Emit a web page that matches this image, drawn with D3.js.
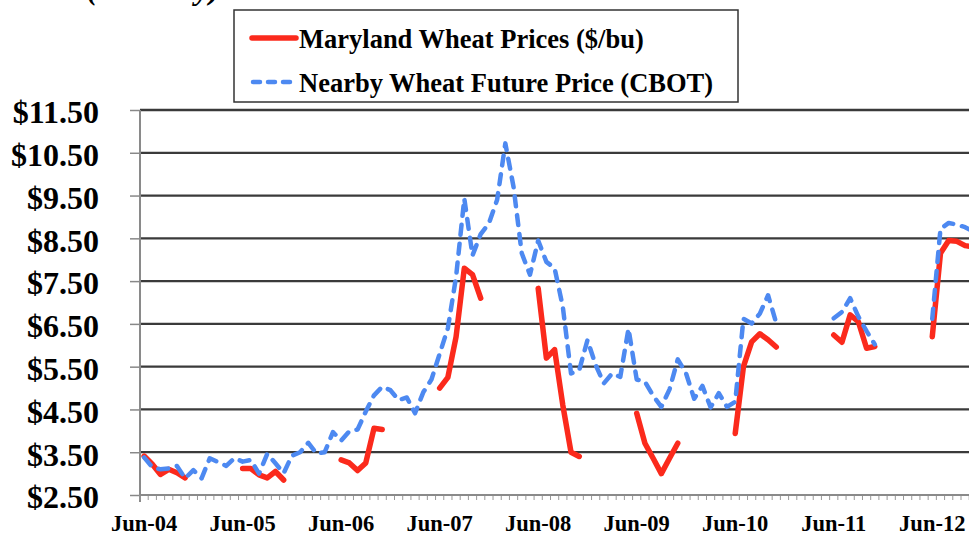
<!DOCTYPE html>
<html>
<head>
<meta charset="utf-8">
<script src="https://cdn.jsdelivr.net/npm/d3@7"></script>
<style>
  body { margin: 0; background: #fff; }
  svg text { font-family: "Liberation Serif", "Times New Roman", serif; font-weight: bold; fill: #000; }
</style>
</head>
<body>
<script>
var width = 969, height = 536;

// y tick values ($/bu) and x labels (one every 12 months, starting Jun-04)
var yTicks = [2.5, 3.5, 4.5, 5.5, 6.5, 7.5, 8.5, 9.5, 10.5, 11.5];
var xTickLabels = ["Jun-04", "Jun-05", "Jun-06", "Jun-07", "Jun-08", "Jun-09", "Jun-10", "Jun-11", "Jun-12"];
var nMonths = 104; // Jun-04 .. Jan-13, the picture is cut at the right edge

// Maryland cash price, monthly from Jun-04 (only Jun-Nov reported)
var marylandPrices = [
  3.41, 3.22, 2.98, 3.10, 3.02, 2.90, null, null, null, null, null, null,
  3.12, 3.12, 2.97, 2.90, 3.05, 2.85, null, null, null, null, null, null,
  3.32, 3.25, 3.07, 3.25, 4.06, 4.03, null, null, null, null, null, null,
  5.00, 5.25, 6.20, 7.80, 7.65, 7.10, null, null, null, null, null, null,
  7.33, 5.70, 5.90, 4.60, 3.50, 3.40, null, null, null, null, null, null,
  4.41, 3.71, 3.36, 3.00, 3.36, 3.71, null, null, null, null, null, null,
  3.94, 5.50, 6.08, 6.27, 6.13, 5.96, null, null, null, null, null, null,
  6.24, 6.07, 6.71, 6.55, 5.93, 5.97, null, null, null, null, null, null,
  6.20, 8.15, 8.45, 8.43, 8.33, 8.30
];

// nearby CBOT wheat futures, monthly from Jun-04
var futuresPrices = [
  3.38, 3.15, 3.10, 3.12, 3.18, 2.89, 3.08, 2.89, 3.36, 3.27, 3.18, 3.36,
  3.28, 3.32, 3.00, 3.46, 3.24, 3.01, 3.42, 3.50, 3.72, 3.47, 3.50, 3.97,
  3.77, 3.99, 4.03, 4.45, 4.83, 5.03, 4.95, 4.72, 4.78, 4.41, 4.90, 5.20,
  5.80, 6.40, 7.60, 9.43, 8.10, 8.60, 8.85, 9.40, 10.72, 9.70, 8.15, 7.65,
  8.45, 7.95, 7.80, 6.90, 5.34, 5.42, 6.12, 5.54, 5.11, 5.34, 5.26, 6.39,
  5.20, 5.15, 4.82, 4.56, 4.97, 5.67, 5.35, 4.75, 5.05, 4.55, 4.88, 4.56,
  4.68, 6.62, 6.51, 6.74, 7.17, 6.52, null, null, null, null, null, null,
  6.63, 6.78, 7.10, 6.67, 6.33, 6.02, null, null, null, null, null, null,
  6.62, 8.72, 8.86, 8.82, 8.76, 8.66
];

var seriesNames = ["Maryland Wheat Prices ($/bu)", "Nearby Wheat Future Price (CBOT)"];
var red = "#fb2a1c", blue = "#4d89f1";

var plotLeft = 140, plotTop = 110, plotBottom = 495, step = 8.21;

var svg = d3.select("body").append("svg")
  .attr("width", width).attr("height", height);

var x = d3.scaleBand()
  .domain(d3.range(nMonths))
  .range([plotLeft, plotLeft + nMonths * step])
  .padding(0);

var y = d3.scaleLinear().domain([2.5, 11.5]).range([plotBottom, plotTop]);

// title, cut off by the top edge (only descenders show)
svg.append("text")
  .attr("x", 220).attr("y", -1)
  .attr("text-anchor", "end")
  .style("font-size", "32px")
  .style("font-style", "italic")
  .text("Wheat Prices (Monthly)");

// gridlines
svg.append("g").selectAll("line")
  .data(yTicks.slice(1))
  .join("line")
  .attr("x1", plotLeft).attr("x2", width)
  .attr("y1", function(d){ return y(d); })
  .attr("y2", function(d){ return y(d); })
  .attr("stroke", "#3a3a3a")
  .attr("stroke-width", 2.3);

// y axis
var yAxis = svg.append("g")
  .attr("transform", "translate(" + plotLeft + ",0)")
  .call(d3.axisLeft(y).tickValues(yTicks).tickSize(10).tickPadding(31)
    .tickFormat(function(d){ return "$" + d.toFixed(2); }));
yAxis.select(".domain").remove();
yAxis.selectAll(".tick line").attr("stroke", "#888").attr("stroke-width", 1.5);
yAxis.selectAll("text")
  .attr("dy", "0.4em")
  .style("font-size", "32px")
  .style("font-family", "'Liberation Serif', serif")
  .style("font-weight", "bold");

svg.append("line")
  .attr("x1", plotLeft).attr("x2", plotLeft)
  .attr("y1", plotTop).attr("y2", plotBottom + 7)
  .attr("stroke", "#8a8a8a").attr("stroke-width", 2);

// x axis: monthly minor ticks
var xMinor = svg.append("g")
  .attr("transform", "translate(0," + plotBottom + ")")
  .call(d3.axisBottom(x).tickSize(5).tickFormat(""));
xMinor.select(".domain").remove();
xMinor.selectAll(".tick line")
  .attr("transform", "translate(" + (-step / 2) + ",0)")
  .attr("stroke", "#999").attr("stroke-width", 1);

svg.append("line")
  .attr("x1", plotLeft).attr("x2", width)
  .attr("y1", plotBottom).attr("y2", plotBottom)
  .attr("stroke", "#8a8a8a").attr("stroke-width", 2);

// x axis labels every 12 months
var xMajor = svg.append("g")
  .attr("transform", "translate(0," + plotBottom + ")")
  .call(d3.axisBottom(x)
    .tickValues(d3.range(0, xTickLabels.length * 12, 12))
    .tickSize(0).tickPadding(20)
    .tickFormat(function(d){ return xTickLabels[d / 12]; }));
xMajor.select(".domain").remove();
xMajor.selectAll("text")
  .style("font-size", "22.5px")
  .style("font-family", "'Liberation Serif', serif")
  .style("font-weight", "bold");

// lines
function makeLine(){
  return d3.line()
    .defined(function(d){ return d != null; })
    .x(function(d, i){ return x(i) + x.bandwidth() / 2; })
    .y(function(d){ return y(d); });
}

svg.append("path")
  .datum(marylandPrices)
  .attr("d", makeLine())
  .attr("fill", "none")
  .attr("stroke", red)
  .attr("stroke-width", 5.5)
  .attr("stroke-linejoin", "round")
  .attr("stroke-linecap", "round");

svg.append("path")
  .datum(futuresPrices)
  .attr("d", makeLine())
  .attr("fill", "none")
  .attr("stroke", blue)
  .attr("stroke-width", 4.5)
  .attr("stroke-dasharray", "10,9")
  .attr("stroke-linejoin", "round")
  .attr("stroke-linecap", "round");

// legend
var legend = svg.append("g");
legend.append("rect")
  .attr("x", 234).attr("y", 10)
  .attr("width", 504).attr("height", 92)
  .attr("fill", "#fff")
  .attr("stroke", "#333").attr("stroke-width", 1.5);

legend.append("line")
  .attr("x1", 252).attr("x2", 296).attr("y1", 38).attr("y2", 38)
  .attr("stroke", red).attr("stroke-width", 5.5).attr("stroke-linecap", "round");
legend.append("line")
  .attr("x1", 253).attr("x2", 296).attr("y1", 82).attr("y2", 82)
  .attr("stroke", blue).attr("stroke-width", 4.5)
  .attr("stroke-dasharray", "7,8").attr("stroke-linecap", "round");

legend.selectAll("text.lab")
  .data(seriesNames)
  .join("text")
  .attr("class", "lab")
  .attr("x", 299)
  .attr("y", function(d, i){ return 48 + i * 44; })
  .style("font-size", "26.5px")
  .text(function(d){ return d; });
</script>
</body>
</html>
